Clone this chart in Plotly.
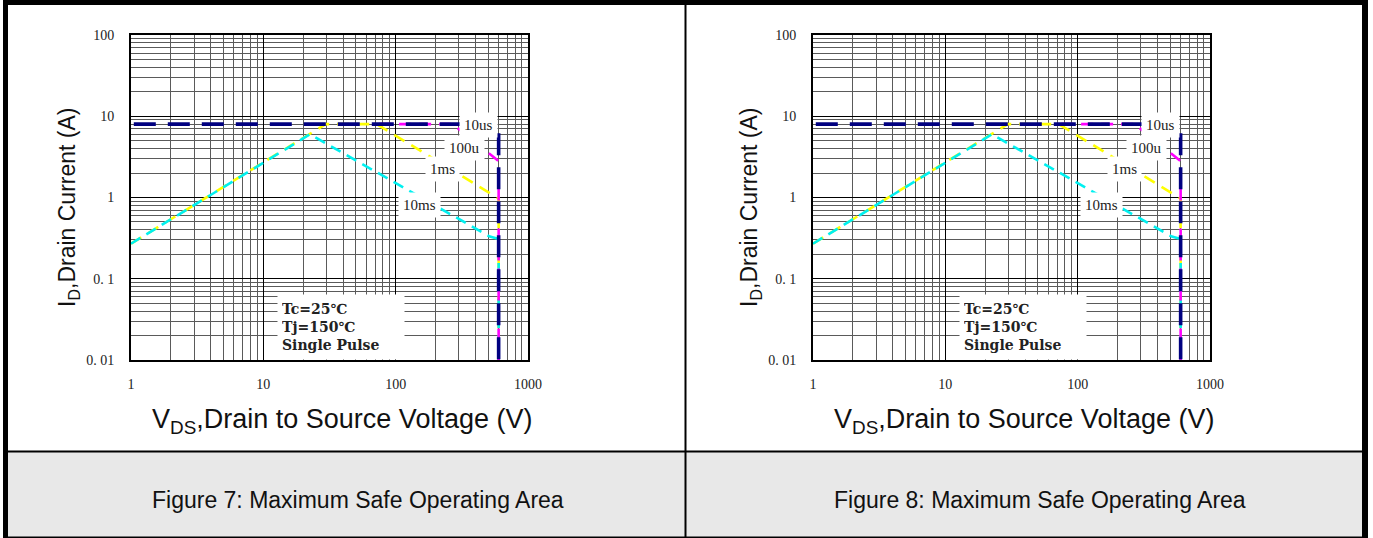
import math
import plotly.graph_objects as go

# ---------------- data ----------------
V_10us = [1.05, 600, 600]
I_10us = [8.0, 8.0, 0.01]

V_100us = [75, 270, 600, 600]
I_100us = [8.0, 8.0, 2.8, 0.01]

V_1ms = [1.0, 29.6, 72, 600, 600]
I_1ms = [0.27, 8.0, 8.0, 0.97, 0.01]

V_10ms = [1.0, 22.5, 515, 600, 600]
I_10ms = [0.27, 6.0, 0.33, 0.31, 0.01]

curve_labels = ["10us", "100u", "1ms", "10ms"]
label_V = [425, 333, 227, 152]
label_I = [7.7, 4.1, 2.27, 0.82]

cond_lines = ["Tc=25℃", "Tj=150℃", "Single Pulse"]
cond_V = 12.7
cond_I = 0.01

x_tickvals = [1, 10, 100, 1000]
x_ticktext = ["1", "10", "100", "1000"]
y_tickvals = [0.01, 0.1, 1, 10, 100]
y_ticktext = ["0. 01", "0. 1", "1", "10", "100"]

captions = ["Figure 7: Maximum Safe Operating Area",
            "Figure 8: Maximum Safe Operating Area"]

# ---------------- geometry helpers ----------------
W, H = 1373, 538


def px(x):
    return x / W


def py(y):
    return 1 - y / H


PANEL_DX = 682  # horizontal offset of the second panel

curves = [
    (V_1ms, I_1ms, "#ffff00", 2.6, "12px,8px"),
    (V_10ms, I_10ms, "#00f0f0", 2.6, "11px,7px"),
    (V_100us, I_100us, "#ff00ff", 2.6, "12px,8px"),
    (V_10us, I_10us, "#000080", 3.6, "22px,12px"),
]

fig = go.Figure()
annotations = []
shapes = []

for p in range(2):
    dx = PANEL_DX * p
    xa = "x" if p == 0 else "x2"
    ya = "y" if p == 0 else "y2"
    for V, I, col, wd, dash in curves:
        fig.add_trace(go.Scatter(
            x=V, y=I, mode="lines", xaxis=xa, yaxis=ya,
            line=dict(color=col, width=wd, dash=dash),
            hoverinfo="skip", showlegend=False))
    # curve labels
    for t, v, i in zip(curve_labels, label_V, label_I):
        annotations.append(dict(
            x=math.log10(v), y=math.log10(i), xref=xa, yref=ya,
            text=t, showarrow=False, bgcolor="white", borderpad=4,
            font=dict(family="Liberation Serif", size=15, color="#222")))
    # conditions box
    annotations.append(dict(
        x=math.log10(cond_V), y=math.log10(cond_I), xref=xa, yref=ya,
        xanchor="left", yanchor="bottom", align="left",
        text="<br>".join(cond_lines), showarrow=False,
        bgcolor="white", borderpad=4, width=118, height=56,
        font=dict(family="DejaVu Serif", size=14, color="#222", weight="bold")))
    # axis titles
    annotations.append(dict(
        x=px(69 + dx), y=py(207), xref="paper", yref="paper",
        text="I<sub>D</sub>,Drain Current (A)", textangle=-90,
        showarrow=False, xanchor="center", yanchor="middle",
        font=dict(family="Liberation Sans, Arial", size=23, color="#111")))
    annotations.append(dict(
        x=px(342 + dx), y=py(421), xref="paper", yref="paper",
        text="V<sub>DS</sub>,Drain to Source Voltage (V)",
        showarrow=False, xanchor="center", yanchor="middle",
        font=dict(family="Liberation Sans, Arial", size=27, color="#111")))
    # caption
    annotations.append(dict(
        x=px(358 + dx), y=py(500), xref="paper", yref="paper",
        text=captions[p], showarrow=False, xanchor="center", yanchor="middle",
        font=dict(family="Liberation Sans, Arial", size=23, color="#111")))


def rect(x0, y0, x1, y1, color):
    shapes.append(dict(type="rect", xref="paper", yref="paper",
                       x0=px(x0), x1=px(x1), y0=py(y1), y1=py(y0),
                       fillcolor=color, line=dict(width=0), layer="below"))


# caption band background
rect(8, 452, 1362, 537, "#e8e8e8")
# frame
rect(3, 0, 1368, 5, "black")          # top
rect(3, 0, 8, 538, "black")           # left
rect(1362, 0, 1368, 538, "black")     # right
rect(3, 536.5, 1368, 538, "black")    # bottom
rect(684.5, 5, 686.5, 538, "black")   # middle divider
rect(8, 450.5, 1362, 452.5, "black")  # caption separator

axis_common = dict(
    type="log", showline=True, linecolor="black", linewidth=2, mirror=True,
    showgrid=True, gridcolor="black", gridwidth=1, ticks="",
    zeroline=False, fixedrange=True, automargin=False,
    tickfont=dict(family="Liberation Serif", size=14, color="#222"),
    minor=dict(dtick="D1", showgrid=True, gridcolor="#5a5a5a", gridwidth=1, ticks=""),
)

ydom = [py(360), py(35)]
layout = dict(
    margin=dict(l=0, r=0, t=0, b=0, pad=0, autoexpand=False), autosize=True,
    paper_bgcolor="white", plot_bgcolor="white", showlegend=False,
    xaxis=dict(axis_common, domain=[px(131), px(528)], range=[0, 3],
               tickvals=x_tickvals, ticktext=x_ticktext, anchor="y",
               ticklabelstandoff=10),
    yaxis=dict(axis_common, domain=ydom, range=[-2, 2],
               tickvals=y_tickvals, ticktext=y_ticktext, anchor="x",
               ticklabelstandoff=12),
    xaxis2=dict(axis_common, domain=[px(131 + PANEL_DX), px(528 + PANEL_DX)], range=[0, 3],
                tickvals=x_tickvals, ticktext=x_ticktext, anchor="y2",
                ticklabelstandoff=10),
    yaxis2=dict(axis_common, domain=ydom, range=[-2, 2],
                tickvals=y_tickvals, ticktext=y_ticktext, anchor="x2",
                ticklabelstandoff=12),
    annotations=annotations, shapes=shapes,
)
fig.update_layout(**layout)

# the plot div is pinned to the page's top-left corner at exactly W x H
fig.write_html(
    "out.html",
    config={"displayModeBar": False, "responsive": False},
    default_width=f"{W}px; position:absolute; left:0px; top:0px",
    default_height=f"{H}px",
)
